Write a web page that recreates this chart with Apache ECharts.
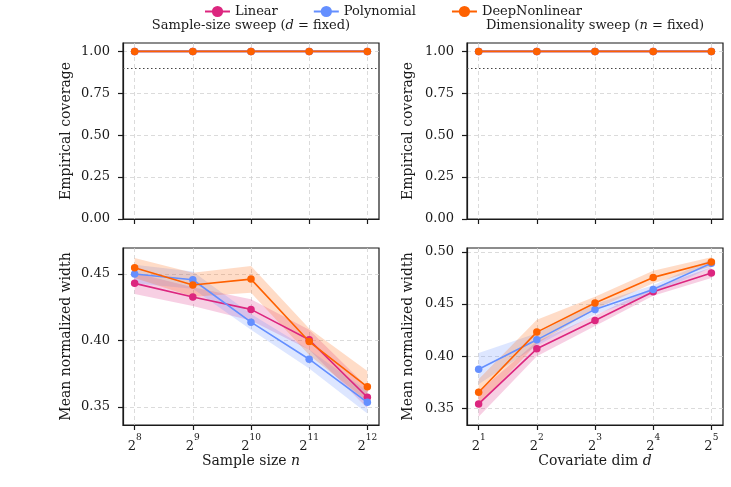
<!DOCTYPE html>
<html>
<head>
<meta charset="utf-8">
<script src="https://cdn.jsdelivr.net/npm/echarts@6/dist/echarts.min.js"></script>
<style>
  html, body { margin: 0; padding: 0; background: #fff; }
  #chart { width: 731px; height: 487px; }
</style>
</head>
<body>
<div id="chart"></div>
<script>
// x positions are log2 exponents: n = 2^8..2^12, d = 2^1..2^5
const logN = [8, 9, 10, 11, 12]
const logD = [1, 2, 3, 4, 5]
const coverageTicks = [0, 0.25, 0.5, 0.75, 1.0]
const widthTicksN = [0.35, 0.40, 0.45]
const widthTicksD = [0.35, 0.40, 0.45, 0.50]
const targetCoverage = 0.9

// empirical coverage
const covLinearN = [1.0, 1.0, 1.0, 1.0, 1.0]
const covPolyN = [1.0, 1.0, 1.0, 1.0, 1.0]
const covDeepN = [1.0, 1.0, 1.0, 1.0, 1.0]
const covLinearD = [1.0, 1.0, 1.0, 1.0, 1.0]
const covPolyD = [1.0, 1.0, 1.0, 1.0, 1.0]
const covDeepD = [1.0, 1.0, 1.0, 1.0, 1.0]

// mean normalized width, sample-size sweep
const widthLinearN = [0.443, 0.4327, 0.4234, 0.4005, 0.3573]
const widthLinearNLo = [0.435, 0.426, 0.415, 0.393, 0.349]
const widthLinearNHi = [0.451, 0.440, 0.431, 0.408, 0.365]
const widthPolyN = [0.450, 0.4457, 0.4138, 0.3859, 0.3535]
const widthPolyNLo = [0.443, 0.439, 0.408, 0.379, 0.345]
const widthPolyNHi = [0.457, 0.452, 0.420, 0.393, 0.362]
const widthDeepN = [0.4548, 0.4417, 0.4462, 0.3992, 0.3651]
const widthDeepNLo = [0.447, 0.433, 0.436, 0.389, 0.354]
const widthDeepNHi = [0.462, 0.451, 0.456, 0.409, 0.377]

// mean normalized width, dimensionality sweep
const widthLinearD = [0.3542, 0.4071, 0.4343, 0.4619, 0.4798]
const widthLinearDLo = [0.342, 0.400, 0.429, 0.458, 0.475]
const widthLinearDHi = [0.366, 0.414, 0.439, 0.466, 0.485]
const widthPolyD = [0.3875, 0.4157, 0.4449, 0.4641, 0.4891]
const widthPolyDLo = [0.373, 0.410, 0.440, 0.460, 0.485]
const widthPolyDHi = [0.403, 0.422, 0.450, 0.468, 0.493]
const widthDeepD = [0.3654, 0.4231, 0.451, 0.4756, 0.4904]
const widthDeepDLo = [0.353, 0.412, 0.445, 0.470, 0.486]
const widthDeepDHi = [0.378, 0.435, 0.457, 0.482, 0.495]

const colors = { Linear: '#DC267F', Polynomial: '#648FFF', DeepNonlinear: '#FE6100' }
const order = { Linear: 0, Polynomial: 1, DeepNonlinear: 2 }
const FONT = 'DejaVu Serif'
const INK = '#1a1a1a'

function rgba(hex, a) {
  const n = parseInt(hex.slice(1), 16)
  return 'rgba(' + (n >> 16) + ',' + ((n >> 8) & 255) + ',' + (n & 255) + ',' + a + ')'
}

function pairs(xs, ys) {
  return xs.map((x, i) => [x, ys[i]])
}

function lineSeries(name, xs, ys, axisIndex) {
  return {
    type: 'line',
    name: name,
    xAxisIndex: axisIndex,
    yAxisIndex: axisIndex,
    data: pairs(xs, ys),
    symbol: 'circle',
    symbolSize: 7.5,
    lineStyle: { width: 1.6, color: colors[name] },
    itemStyle: { color: colors[name] },
    z: 3 + order[name]
  }
}

function bandSeries(name, xs, lo, hi, axisIndex) {
  return {
    type: 'custom',
    name: name + ' band',
    xAxisIndex: axisIndex,
    yAxisIndex: axisIndex,
    data: xs.map((x, i) => [x, lo[i], hi[i]]),
    encode: { x: 0, y: [1, 2] },
    silent: true,
    z: 1,
    renderItem: (params, api) => {
      if (params.dataIndex !== 0) return null
      const top = xs.map((x, i) => api.coord([x, hi[i]]))
      const bottom = xs.map((x, i) => api.coord([x, lo[i]])).reverse()
      return {
        type: 'polygon',
        shape: { points: top.concat(bottom) },
        style: { fill: rgba(colors[name], 0.22) }
      }
    }
  }
}

const splitLine = { show: true, lineStyle: { type: [4, 3], color: '#d2d2d2', width: 0.8 } }
const axisLine = { show: true, onZero: false, lineStyle: { color: INK, width: 1.2 } }

function xAxis(gridIndex, min, max, ticks, withLabels, name) {
  return {
    type: 'value',
    gridIndex: gridIndex,
    min: min,
    max: max,
    axisLine: axisLine,
    axisTick: { show: true, length: 5, customValues: ticks, lineStyle: { color: INK, width: 1.2 } },
    axisLabel: {
      show: withLabels,
      customValues: ticks,
      margin: 8,
      formatter: v => '{b|2}{s|' + v + '}',
      rich: {
        b: { fontFamily: FONT, fontSize: 13, color: INK, lineHeight: 20, verticalAlign: 'bottom' },
        s: { fontFamily: FONT, fontSize: 9, color: INK, lineHeight: 8, verticalAlign: 'top' }
      }
    },
    splitLine: splitLine,
    name: name,
    nameLocation: 'middle',
    nameGap: 24,
    nameTextStyle: {
      fontFamily: FONT, fontSize: 14, color: INK,
      rich: { i: { fontFamily: FONT, fontSize: 14, color: INK, fontStyle: 'italic' } }
    }
  }
}

function yAxis(gridIndex, min, max, ticks, name, gap) {
  return {
    type: 'value',
    gridIndex: gridIndex,
    min: min,
    max: max,
    axisLine: axisLine,
    axisTick: { show: true, length: 5, customValues: ticks, lineStyle: { color: INK, width: 1.2 } },
    axisLabel: {
      customValues: ticks,
      margin: 13,
      fontFamily: FONT,
      fontSize: 13,
      color: INK,
      formatter: v => v.toFixed(2)
    },
    splitLine: splitLine,
    name: name,
    nameLocation: 'middle',
    nameGap: gap,
    nameTextStyle: { fontFamily: FONT, fontSize: 14, color: INK }
  }
}

const gridBase = { show: true, borderColor: INK, borderWidth: 1.2, backgroundColor: 'transparent' }

const targetLine = {
  silent: true,
  symbol: 'none',
  label: { show: false },
  lineStyle: { type: [1.5, 2.5], color: '#444', width: 1 },
  data: [{ yAxis: targetCoverage }]
}

const covLinearNSeries = lineSeries('Linear', logN, covLinearN, 0)
covLinearNSeries.markLine = targetLine
const covLinearDSeries = lineSeries('Linear', logD, covLinearD, 1)
covLinearDSeries.markLine = targetLine

const chart = echarts.init(document.getElementById('chart'))

chart.setOption({
  animation: false,
  legend: {
    data: ['Linear', 'Polynomial', 'DeepNonlinear'],
    left: 199,
    top: 0,
    itemWidth: 25,
    itemHeight: 14,
    itemGap: 35,
    textStyle: { fontFamily: FONT, fontSize: 13, color: INK }
  },
  graphic: [
    {
      type: 'text', x: 251, y: 26,
      style: {
        text: 'Sample-size sweep ({i|d} = fixed)',
        fontFamily: FONT, fontSize: 13, fill: INK, align: 'center', verticalAlign: 'middle',
        rich: { i: { fontFamily: FONT, fontSize: 13, fontStyle: 'italic', fill: INK } }
      }
    },
    {
      type: 'text', x: 595, y: 26,
      style: {
        text: 'Dimensionality sweep ({i|n} = fixed)',
        fontFamily: FONT, fontSize: 13, fill: INK, align: 'center', verticalAlign: 'middle',
        rich: { i: { fontFamily: FONT, fontSize: 13, fontStyle: 'italic', fill: INK } }
      }
    }
  ],
  grid: [
    Object.assign({ left: 123, top: 43, width: 256, height: 176 }, gridBase),
    Object.assign({ left: 467, top: 43, width: 256, height: 176 }, gridBase),
    Object.assign({ left: 123, top: 248, width: 256, height: 177 }, gridBase),
    Object.assign({ left: 467, top: 248, width: 256, height: 177 }, gridBase)
  ],
  xAxis: [
    xAxis(0, 7.8, 12.2, logN, false, ''),
    xAxis(1, 0.8, 5.2, logD, false, ''),
    xAxis(2, 7.8, 12.2, logN, true, 'Sample size {i|n}'),
    xAxis(3, 0.8, 5.2, logD, true, 'Covariate dim {i|d}')
  ],
  yAxis: [
    yAxis(0, 0, 1.05, coverageTicks, 'Empirical coverage', 50),
    yAxis(1, 0, 1.05, coverageTicks, 'Empirical coverage', 52),
    yAxis(2, 0.3364, 0.4696, widthTicksN, 'Mean normalized width', 50),
    yAxis(3, 0.334, 0.5038, widthTicksD, 'Mean normalized width', 52)
  ],
  series: [
    covLinearNSeries,
    lineSeries('Polynomial', logN, covPolyN, 0),
    lineSeries('DeepNonlinear', logN, covDeepN, 0),
    covLinearDSeries,
    lineSeries('Polynomial', logD, covPolyD, 1),
    lineSeries('DeepNonlinear', logD, covDeepD, 1),

    bandSeries('Linear', logN, widthLinearNLo, widthLinearNHi, 2),
    bandSeries('Polynomial', logN, widthPolyNLo, widthPolyNHi, 2),
    bandSeries('DeepNonlinear', logN, widthDeepNLo, widthDeepNHi, 2),
    lineSeries('Linear', logN, widthLinearN, 2),
    lineSeries('Polynomial', logN, widthPolyN, 2),
    lineSeries('DeepNonlinear', logN, widthDeepN, 2),

    bandSeries('Linear', logD, widthLinearDLo, widthLinearDHi, 3),
    bandSeries('Polynomial', logD, widthPolyDLo, widthPolyDHi, 3),
    bandSeries('DeepNonlinear', logD, widthDeepDLo, widthDeepDHi, 3),
    lineSeries('Linear', logD, widthLinearD, 3),
    lineSeries('Polynomial', logD, widthPolyD, 3),
    lineSeries('DeepNonlinear', logD, widthDeepD, 3)
  ]
})

window.addEventListener('resize', () => {
  chart.resize()
})
</script>
</body>
</html>
